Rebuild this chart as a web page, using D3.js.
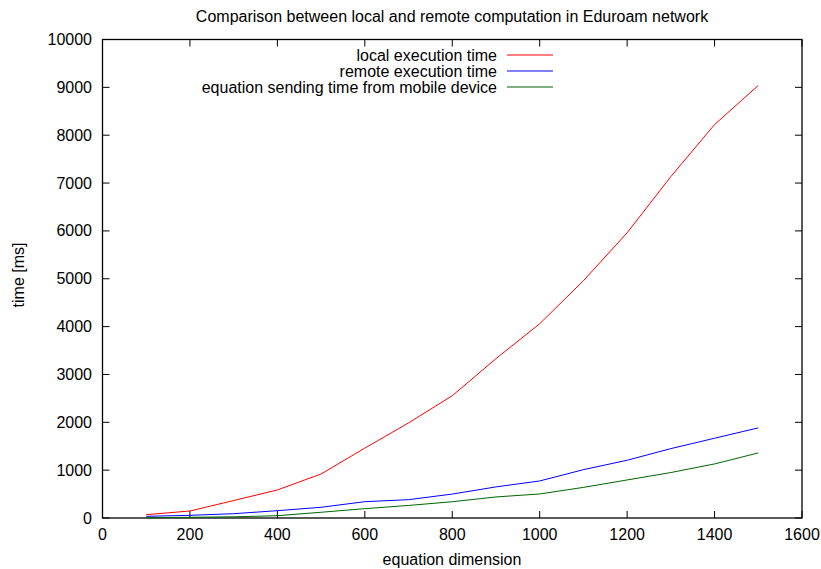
<!DOCTYPE html>
<html><head><meta charset="utf-8">
<script src="https://cdn.jsdelivr.net/npm/d3@7"></script>
<style>body{margin:0;background:#fff}svg{display:block;font-family:"Liberation Sans",Arial,sans-serif}</style>
</head><body><svg id="c" width="821" height="569"></svg>
<script>
const dims = [100,200,300,400,500,600,700,800,900,1000,1100,1200,1300,1400,1500];
const localTime = [70,146,365,586,920,1460,1987,2555,3330,4060,4958,5960,7135,8222,9040];
const remoteTime = [35,56,90,153,224,341,383,500,650,774,1010,1207,1450,1667,1883];
const sendTime = [5,15,25,48,120,195,262,340,440,502,640,795,950,1130,1360];
const xTicks = [0,200,400,600,800,1000,1200,1400,1600];
const yTicks = [0,1000,2000,3000,4000,5000,6000,7000,8000,9000,10000];
const seriesNames = ["local execution time","remote execution time","equation sending time from mobile device"];
const seriesColors = ["#ff0000","#0000ff","#006400"];
const series = [localTime, remoteTime, sendTime];

const svg = d3.select("#c");
const L=102.5, R=802, T=39.5, B=518;
const x = d3.scaleLinear().domain([0,1600]).range([L,R]);
const y = d3.scaleLinear().domain([0,10000]).range([B,T]);
const tl = 7;
const fs = 16;

svg.append("text").attr("x",452).attr("y",22).attr("text-anchor","middle").attr("font-size",fs).text("Comparison between local and remote computation in Eduroam network");

const g = svg.append("g");
xTicks.forEach(v=>{
  g.append("line").attr("x1",x(v)).attr("x2",x(v)).attr("y1",B).attr("y2",B-tl).attr("stroke","#000");
  g.append("line").attr("x1",x(v)).attr("x2",x(v)).attr("y1",T).attr("y2",T+tl).attr("stroke","#000");
  g.append("text").attr("x",x(v)).attr("y",540).attr("text-anchor","middle").attr("font-size",fs).text(v);
});
yTicks.forEach(v=>{
  g.append("line").attr("x1",L).attr("x2",L+tl).attr("y1",y(v)).attr("y2",y(v)).attr("stroke","#000");
  g.append("line").attr("x1",R).attr("x2",R-tl).attr("y1",y(v)).attr("y2",y(v)).attr("stroke","#000");
  g.append("text").attr("x",92).attr("y",y(v)+5.5).attr("text-anchor","end").attr("font-size",fs).text(v);
});
g.append("rect").attr("x",L).attr("y",T).attr("width",R-L).attr("height",B-T).attr("fill","none").attr("stroke","#000").attr("stroke-width",1.3);

svg.append("text").attr("x",452).attr("y",565).attr("text-anchor","middle").attr("font-size",fs).text("equation dimension");
svg.append("text").attr("transform","translate(24,275) rotate(-90)").attr("text-anchor","middle").attr("font-size",fs).text("time [ms]");

const line = d3.line().x((d,i)=>x(dims[i])).y(d=>y(d));
series.forEach((s,k)=>{
  svg.append("path").datum(s).attr("d",line).attr("fill","none").attr("stroke",seriesColors[k]).attr("stroke-width",1);
  const ly = 55 + k*16;
  svg.append("text").attr("x",497).attr("y",ly+5.5).attr("text-anchor","end").attr("font-size",fs).text(seriesNames[k]);
  svg.append("line").attr("x1",507).attr("x2",553).attr("y1",ly).attr("y2",ly).attr("stroke",seriesColors[k]).attr("stroke-width",1);
});
</script></body></html>
